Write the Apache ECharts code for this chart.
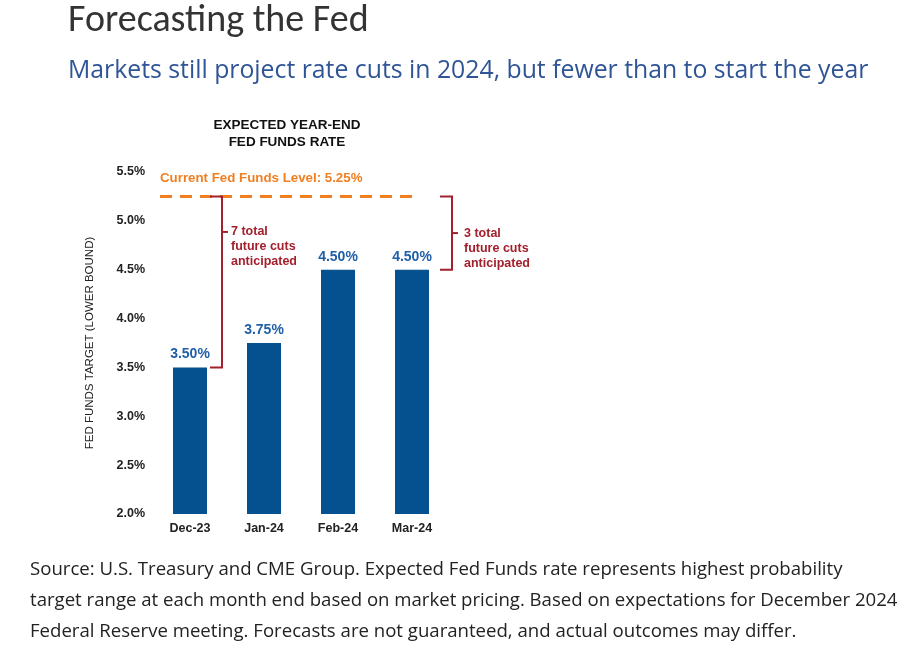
<!DOCTYPE html><html><head><meta charset="utf-8">
<script src="https://cdn.jsdelivr.net/npm/echarts@6/dist/echarts.min.js"></script>
<style>body{margin:0;background:#fff}#c{width:910px;height:664px}</style></head><body><div id="c"></div>
<script>
const categories=['Dec-23','Jan-24','Feb-24','Mar-24'];
const values=[3.5,3.75,4.5,4.5];
const currentLevel=5.25;
const yTicks=[2.0,2.5,3.0,3.5,4.0,4.5,5.0,5.5];
const chart=echarts.init(document.getElementById('c'));
const F='Liberation Sans, Arial, sans-serif';
chart.setOption({
 animation:false,
 grid:{left:153,right:461,top:172,bottom:150},
 xAxis:{type:'category',data:categories,axisTick:{show:false},axisLine:{show:false},
  axisLabel:{color:'#222',fontWeight:'bold',fontSize:12.5,fontFamily:F,margin:8}},
 yAxis:{type:'value',min:2,max:5.5,interval:0.5,splitLine:{show:false},axisLine:{show:false},axisTick:{show:false},
  axisLabel:{color:'#222',fontWeight:'bold',fontSize:12.5,fontFamily:F,formatter:v=>v.toFixed(1)+'%'},
  name:'FED FUNDS TARGET (LOWER BOUND)',nameLocation:'middle',nameGap:57,nameRotate:90,
  nameTextStyle:{fontSize:11.5,color:'#222',fontFamily:F}},
 series:[{type:'bar',data:values,barWidth:34,itemStyle:{color:'#05508F'},
  label:{show:true,position:'top',color:'#1F5FA8',fontWeight:'bold',fontSize:14,fontFamily:F,distance:6,formatter:p=>p.value.toFixed(2)+'%'}}]
});
const px=(i,v)=>chart.convertToPixel({seriesIndex:0},[i,v]);
const yL=px(0,currentLevel)[1], y35=px(0,values[0])[1], y45=px(3,values[3])[1];
const x0=px(0,0)[0], x3=px(3,0)[0];
const red='#A3202E';
const gfx=[
 {type:'text',left:68,top:2,style:{text:'Forecasting the Fed',fontSize:38,fill:'#333',fontFamily:'Calibri, Carlito, Open Sans, sans-serif'}},
 {type:'text',left:68,top:58,style:{text:'Markets still project rate cuts in 2024, but fewer than to start the year',fontSize:24.8,fill:'#2F5597',fontFamily:'Open Sans, sans-serif'}},
 {type:'text',x:287,y:117,style:{text:'EXPECTED YEAR-END\nFED FUNDS RATE',fontSize:13.5,fontWeight:'bold',fill:'#111',align:'center',lineHeight:17,fontFamily:F}},
 {type:'line',shape:{x1:x0-30,y1:yL,x2:x3+3,y2:yL},style:{stroke:'#F07F22',lineWidth:3,lineDash:[12,8]}},
 {type:'text',x:160,y:yL-25,style:{text:'Current Fed Funds Level: 5.25%',fontSize:13.3,fontWeight:'bold',fill:'#F07F22',fontFamily:F}},
 {type:'polyline',shape:{points:[[x0+20,y35],[x0+32,y35],[x0+32,yL],[x0+20,yL]]},style:{stroke:red,lineWidth:2,fill:null}},
 {type:'line',shape:{x1:x0+32,y1:(y35+yL)/2-50,x2:x0+38,y2:(y35+yL)/2-50},style:{stroke:red,lineWidth:2}},
 {type:'text',x:x0+41,y:(y35+yL)/2-58,style:{text:'7 total\nfuture cuts\nanticipated',fontSize:12.5,fontWeight:'bold',fill:red,lineHeight:15,fontFamily:F}},
 {type:'polyline',shape:{points:[[x3+28,y45],[x3+40,y45],[x3+40,yL],[x3+28,yL]]},style:{stroke:red,lineWidth:2,fill:null}},
 {type:'line',shape:{x1:x3+40,y1:(y45+yL)/2,x2:x3+46,y2:(y45+yL)/2},style:{stroke:red,lineWidth:2}},
 {type:'text',x:x3+52,y:(y45+yL)/2-7,style:{text:'3 total\nfuture cuts\nanticipated',fontSize:12.5,fontWeight:'bold',fill:red,lineHeight:15,fontFamily:F}},
 {type:'text',left:30,top:554,style:{text:'Source: U.S. Treasury and CME Group. Expected Fed Funds rate represents highest probability\ntarget range at each month end based on market pricing. Based on expectations for December 2024\nFederal Reserve meeting. Forecasts are not guaranteed, and actual outcomes may differ.',fontSize:18.6,lineHeight:31,fill:'#222',fontFamily:'Open Sans, sans-serif'}}
];
chart.setOption({graphic:gfx});
</script></body></html>
